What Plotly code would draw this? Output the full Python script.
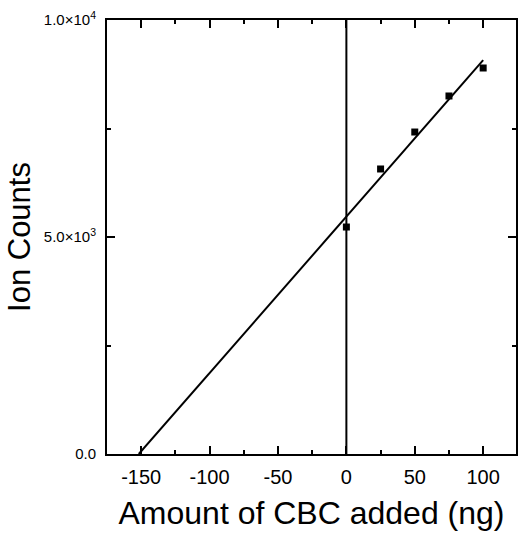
import numpy as np
import plotly.graph_objects as go

# Data
cbc_added = [0, 25, 50, 75, 100]
ion_counts = [5230, 6567, 7419, 8249, 8894]

x_tickvals = [-150, -100, -50, 0, 50, 100]
x_ticktext = ["-150", "-100", "-50", "0", "50", "100"]
y_tickvals = [0, 5000, 10000]
y_ticktext = ["0.0", "5.0×10<sup>3</sup>", "1.0×10<sup>4</sup>"]

# Linear fit (standard addition), extrapolated to x-intercept
slope, intercept = np.polyfit(cbc_added, ion_counts, 1)
x0 = -intercept / slope
fit_x = [x0, max(cbc_added)]
fit_y = [slope * v + intercept for v in fit_x]

fig = go.Figure()
fig.add_trace(go.Scatter(x=fit_x, y=fit_y, mode="lines",
                         line=dict(color="black", width=2), showlegend=False))
fig.add_trace(go.Scatter(x=[0, 0], y=[0, 10000], mode="lines",
                         line=dict(color="black", width=2), showlegend=False))
fig.add_trace(go.Scatter(x=cbc_added, y=ion_counts, mode="markers",
                         marker=dict(symbol="square", size=7, color="black"),
                         showlegend=False))

fig.update_layout(
    width=518, height=535,
    margin=dict(l=107, r=0, t=20, b=81),
    paper_bgcolor="white", plot_bgcolor="white",
    font=dict(family="Liberation Sans, Arial, sans-serif", color="black"),
    xaxis=dict(
        range=[-175, 124], tickvals=x_tickvals, ticktext=x_ticktext,
        ticks="inside", ticklen=8, tickwidth=2, tickcolor="black",
        minor=dict(dtick=25, tick0=0, ticks="inside", ticklen=4, tickwidth=2, tickcolor="black"),
        showline=True, linecolor="black", linewidth=2, mirror="ticks",
        showgrid=False, zeroline=False,
        tickfont=dict(size=20),
        ticklabelstandoff=4,
        title=dict(text="Amount of CBC added (ng)", font=dict(size=32), standoff=15),
    ),
    yaxis=dict(
        range=[0, 10000], tickvals=y_tickvals, ticktext=y_ticktext,
        ticks="inside", ticklen=8, tickwidth=2, tickcolor="black",
        minor=dict(dtick=2500, tick0=0, ticks="inside", ticklen=4, tickwidth=2, tickcolor="black"),
        showline=True, linecolor="black", linewidth=2, mirror="ticks",
        showgrid=False, zeroline=False,
        tickfont=dict(size=15),
        ticklabelstandoff=6,
        title=dict(text="Ion Counts", font=dict(size=31), standoff=4),
    ),
)

fig.write_html("out.html")
